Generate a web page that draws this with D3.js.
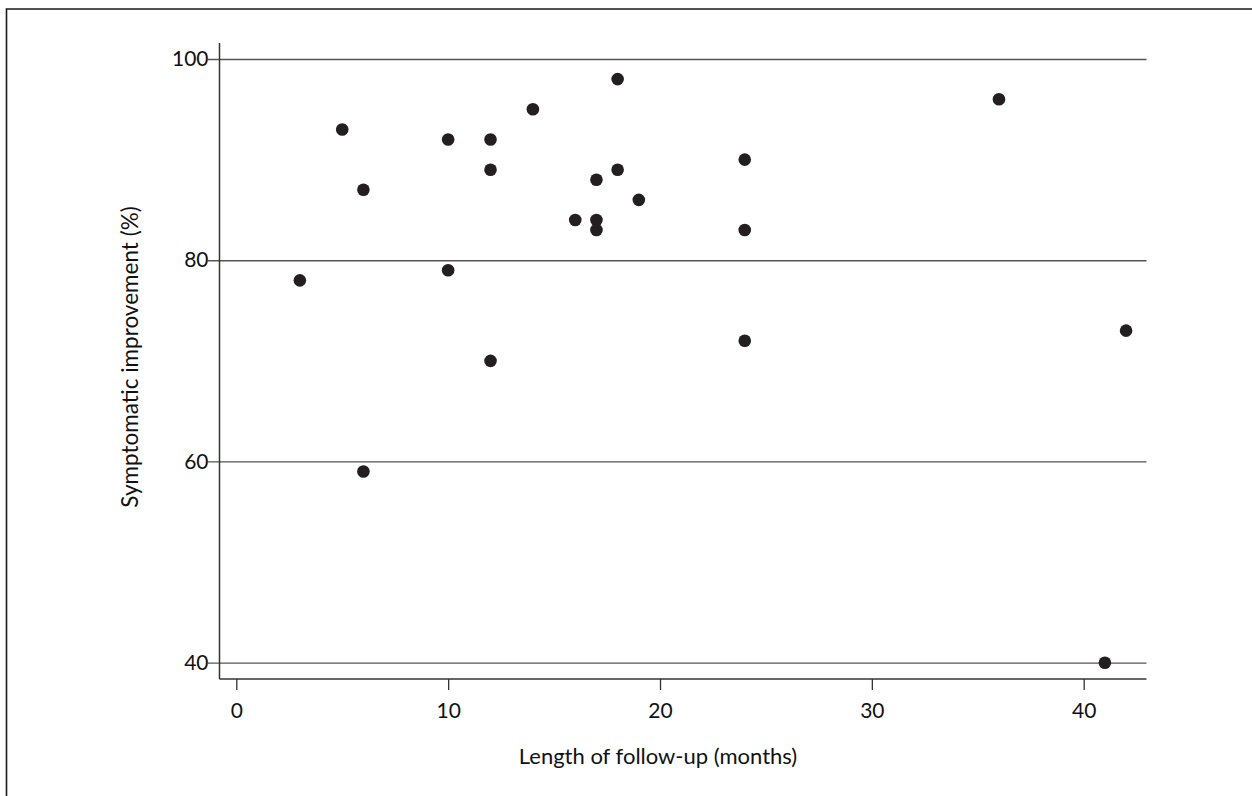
<!DOCTYPE html>
<html>
<head>
<meta charset="utf-8">
<script src="https://cdn.jsdelivr.net/npm/d3@7"></script>
<style>
  html, body { margin: 0; padding: 0; background: #fff; }
  svg { display: block; }
  text { font-family: Lato, "Open Sans", sans-serif; fill: #111; }
</style>
</head>
<body>
<script>
// Follow-up length (months) and symptomatic improvement (%) per study
const followUpMonths = [3, 5, 6, 6, 10, 10, 12, 12, 12, 14, 16, 17, 17, 17, 18, 18, 19, 24, 24, 24, 36, 41, 42];
const improvementPct = [78, 93, 87, 59, 92, 79, 92, 89, 70, 95, 84, 88, 84, 83, 98, 89, 86, 90, 83, 72, 96, 40, 73];
const xTicks = [0, 10, 20, 30, 40];
const yTicks = [40, 60, 80, 100];
const xTitle = "Length of follow-up (months)";
const yTitle = "Symptomatic improvement (%)";

const W = 1252, H = 796;
const svg = d3.select("body").append("svg").attr("width", W).attr("height", H);

// outer frame (open on the right and bottom)
svg.append("path")
  .attr("d", `M6.5,${H} V9 H${W}`)
  .attr("fill", "none").attr("stroke", "#1a1a1a").attr("stroke-width", 1.6);

const x = d3.scaleLinear().domain([0, 40]).range([236.3, 1083.7]);
const y = d3.scaleLinear().domain([40, 100]).range([662.7, 59]);

const plotLeft = 219.5, plotRight = 1146.5, plotTop = 43, plotBottom = 679;

// horizontal gridlines with left ticks
const yAxis = d3.axisLeft(y).tickValues(yTicks).tickFormat(d3.format("d"))
  .tickSize(-(plotRight - plotLeft)).tickPadding(11);
const gy = svg.append("g").attr("transform", `translate(${plotLeft},0)`).call(yAxis);
gy.select(".domain").remove();
gy.selectAll(".tick line")
  .attr("x1", -11.5)
  .attr("stroke", "#555").attr("stroke-width", 1.3);
gy.selectAll(".tick text").style("font-size", "21px").attr("fill", "#111");

// left axis line
svg.append("line")
  .attr("x1", plotLeft).attr("x2", plotLeft).attr("y1", plotTop).attr("y2", plotBottom)
  .attr("stroke", "#333").attr("stroke-width", 1.5);

// bottom axis
const xAxis = d3.axisBottom(x).tickValues(xTicks).tickFormat(d3.format("d"))
  .tickSizeOuter(0).tickSizeInner(11).tickPadding(13);
const gx = svg.append("g").attr("transform", `translate(0,${plotBottom})`).call(xAxis);
gx.select(".domain").remove();
gx.selectAll(".tick line").attr("stroke", "#333").attr("stroke-width", 1.3);
gx.selectAll(".tick text").style("font-size", "21px").attr("fill", "#111");
svg.append("line")
  .attr("x1", plotLeft).attr("x2", plotRight).attr("y1", plotBottom).attr("y2", plotBottom)
  .attr("stroke", "#333").attr("stroke-width", 1.5);

// axis titles
svg.append("text")
  .attr("x", 658).attr("y", 764)
  .attr("text-anchor", "middle")
  .style("font-size", "22px")
  .text(xTitle);

svg.append("text")
  .attr("transform", "translate(138,357) rotate(-90)")
  .attr("text-anchor", "middle")
  .style("font-size", "22.5px")
  .text(yTitle);

// study points
const pts = followUpMonths.map((m, i) => ({ m, v: improvementPct[i] }));
svg.append("g").selectAll("circle").data(pts).join("circle")
  .attr("cx", d => x(d.m))
  .attr("cy", d => y(d.v))
  .attr("r", 6.3)
  .attr("fill", "#231f20");
</script>
</body>
</html>
